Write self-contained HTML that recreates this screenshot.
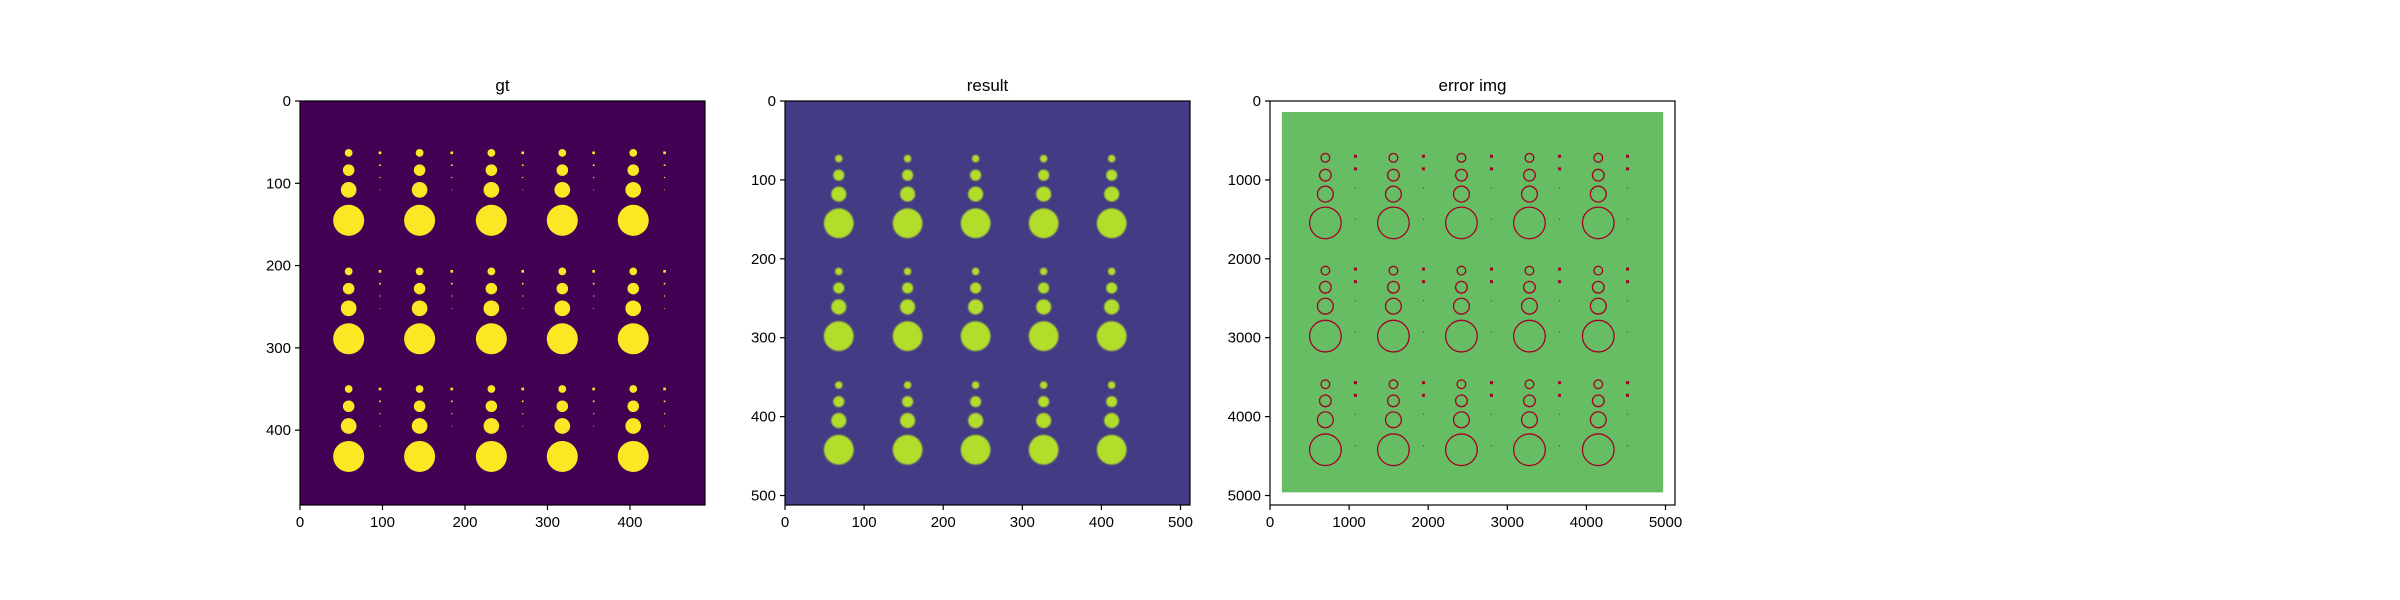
<!DOCTYPE html>
<html><head><meta charset="utf-8"><style>
body{margin:0;background:#fff}
svg{display:block;font-family:"Liberation Sans","DejaVu Sans",sans-serif}
</style></head><body>
<svg id="fig" width="2400" height="600" viewBox="0 0 2400 600">
<defs><filter id="bl"><feGaussianBlur stdDeviation="0.8"/></filter></defs>
</svg>
<script>
// ---- data ----
const gtColX = [59, 145, 232, 318, 404];
const gtRowY = [[63, 84, 108, 145], [207, 228, 252, 289], [350, 371, 395, 432]];
const blobR = [4.7, 7, 9.5, 18.8];
const dotColX = [97, 184, 270, 356, 442];
const dotRowOff = [0, 15, 30, 45];
const dotR = [1.6, 1, 0.7, 0.5];
const resColX = [68, 155, 241, 327, 413];
const resRowY = [[73, 94, 118, 155], [216, 237, 261, 298], [360, 381, 405, 442]];
const errColX = [700, 1560, 2420, 3280, 4150];
const errRowY = [[720, 940, 1180, 1545], [2150, 2360, 2600, 2980], [3590, 3800, 4040, 4420]];
const errR = [55, 74, 100, 200];
const errDotX = [1080, 1940, 2800, 3660, 4520];
const gtTicks = [0, 100, 200, 300, 400];
const resTicks = [0, 100, 200, 300, 400, 500];
const errTicks = [0, 1000, 2000, 3000, 4000, 5000];

const NS = 'http://www.w3.org/2000/svg';
const svg = document.getElementById('fig');
function mk(tag, attrs, parent) {
  const e = document.createElementNS(NS, tag);
  for (const k in attrs) e.setAttribute(k, attrs[k]);
  (parent || svg).appendChild(e);
  return e;
}
function panel(o) {
  const g = mk('g', {});
  
  
  const sx = v => o.x0 + (v / o.ext) * (o.x1 - o.x0);
  const sy = v => o.y0 + (v / o.ext) * (o.y1 - o.y0);
  const s = (o.x1 - o.x0) / o.ext;
  mk('rect', {x: o.x0, y: o.y0, width: o.x1 - o.x0, height: o.y1 - o.y0, fill: o.bg}, g);
  o.draw(g, sx, sy, s);
  const fr = mk('rect', {x: o.x0, y: o.y0, width: o.x1 - o.x0, height: o.y1 - o.y0, fill: 'none', stroke: '#000', 'stroke-width': 1.2}, g);
  
  
  const t = mk('text', {x: (o.x0 + o.x1) / 2, y: o.y0 - 10, 'text-anchor': 'middle', 'font-size': 17}, g);
  t.textContent = o.title;
  
  
  o.ticks.forEach(v => {
    const x = sx(v), y = sy(v);
    mk('line', {x1: x, x2: x, y1: o.y1, y2: o.y1 + 5, stroke: '#000', 'stroke-width': 1.2}, g);
    const tx = mk('text', {x: x, y: o.y1 + 22, 'text-anchor': 'middle', 'font-size': 15}, g);
    tx.textContent = v;
    
    
    mk('line', {x1: o.x0 - 5, x2: o.x0, y1: y, y2: y, stroke: '#000', 'stroke-width': 1.2}, g);
    const ty = mk('text', {x: o.x0 - 9, y: y + 5, 'text-anchor': 'end', 'font-size': 15}, g);
    ty.textContent = v;
    
    
  });
}
panel({name: 'gt-panel', title: 'gt', x0: 300, x1: 705, y0: 101, y1: 505, ext: 491, bg: '#440154', ticks: gtTicks,
  draw: (g, sx, sy, s) => {
    gtRowY.forEach(row => row.forEach((y, i) => gtColX.forEach(x => {
      const c = mk('circle', {cx: sx(x), cy: sy(y), r: blobR[i] * s, fill: '#fde725'}, g);
      
      
    })));
    gtRowY.forEach(row => dotRowOff.forEach((d, i) => dotColX.forEach(x => {
      const c = mk('rect', {x: sx(x) - dotR[i] * s, y: sy(row[0] + d) - dotR[i] * s, width: 2 * dotR[i] * s, height: 2 * dotR[i] * s, fill: '#fde725'}, g);
      
      
    })));
  }});
panel({name: 'result-panel', title: 'result', x0: 785, x1: 1190, y0: 101, y1: 505, ext: 512, bg: '#433c84', ticks: resTicks,
  draw: (g, sx, sy, s) => {
    resRowY.forEach(row => row.forEach((y, i) => resColX.forEach(x => {
      const c = mk('circle', {cx: sx(x), cy: sy(y), r: blobR[i] * s, fill: '#b2dd2c', filter: 'url(#bl)'}, g);
      
      
    })));
  }});
panel({name: 'error-panel', title: 'error img', x0: 1270, x1: 1675, y0: 101, y1: 505, ext: 5120, bg: '#ffffff', ticks: errTicks,
  draw: (g, sx, sy, s) => {
    const gr = mk('rect', {x: sx(150), y: sy(140), width: sx(4970) - sx(150), height: sy(4960) - sy(140), fill: '#66bd63'}, g);
    
    
    errRowY.forEach(row => row.forEach((y, i) => errColX.forEach(x => {
      const c = mk('circle', {cx: sx(x), cy: sy(y), r: errR[i] * s, fill: 'none', stroke: '#a50026', 'stroke-width': 1.3}, g);
      
      
    })));
    errRowY.forEach(row => [0, 160, 400, 800].forEach((d, i) => errDotX.forEach(x => {
      const w = i < 2 ? 3 : 1;
      const c = mk('rect', {x: sx(x) - w / 2, y: sy(row[0] - 20 + d) - w / 2, width: w, height: w, fill: '#a50026'}, g);
      
      
    })));
  }});
</script>
</body></html>
